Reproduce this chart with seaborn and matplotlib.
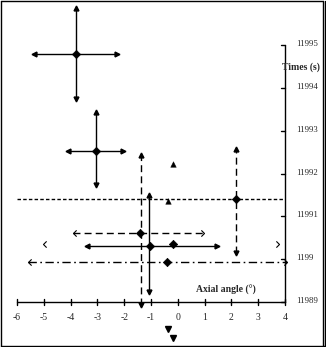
import numpy as np
import pandas as pd
import matplotlib
matplotlib.use("Agg")
import matplotlib.pyplot as plt
from matplotlib.path import Path
from matplotlib.lines import Line2D
import seaborn as sns

# ---------------- data ----------------
x_ticks = [-6, -5, -4, -3, -2, -1, 0, 1, 2, 3, 4]
x_tick_labels = ["-6", "-5", "-4", "-3", "-2", "-1", "0", "1", "2", "3", "4"]
y_ticks = [11989, 11990, 11991, 11992, 11993, 11994, 11995]
y_tick_labels = ["11989", "1199", "11991", "11992", "11993", "11994", "11995"]

# measurement points with error bars
pt_names = ["A", "B", "C", "D", "E", "F"]
pt_x = [-3.81, -3.06, -1.42, -1.05, -0.41, 2.17]
pt_y = [11994.79, 11992.53, 11990.62, 11990.31, 11989.93, 11991.41]
xerr_lo = [1.55, 1.03, 2.48, 2.35, 5.19, 8.17]
xerr_hi = [1.55, 1.03, 2.41, 2.51, 4.48, 1.83]
yerr_lo = [1.05, 0.80, 1.69, 1.08, 0.0, 1.27]
yerr_hi = [1.07, 0.91, 1.81, 1.19, 0.0, 1.16]

# extra single diamond
extra_x = [-0.18]
extra_y = [11990.35]
# open chevrons (bare arrow heads)
chev_left_x = [-5.04]
chev_right_x = [3.77]
chev_y = [11990.35]
# triangle markers
tri_up_x = [-0.19, -0.37]
tri_up_y = [11992.22, 11991.36]
tri_dn_x = [-0.37, -0.19]
tri_dn_y = [11988.37, 11988.16]

# ---------------- styles ----------------
h_style = {"A": "-", "B": "-", "C": (0, (5, 3)), "D": "-", "E": (0, (6, 2.5, 1.2, 2.5)), "F": (0, (2.5, 1.6))}
v_style = {"A": "-", "B": "-", "C": (0, (5, 3)), "D": "-", "E": None, "F": (0, (5, 3))}
h_head = {"A": "fill", "B": "fill", "C": "open", "D": "fill", "E": "open", "F": None}

sns.set_theme(style="white")
plt.rcParams["font.family"] = ["Liberation Serif", "DejaVu Serif"]

W, H = 326, 347
fig = plt.figure(figsize=(W / 100, H / 100), dpi=100)
ax = fig.add_axes([0, 0, 1, 1])

# pixel mapping
px_per_x = 26.8
x0_px = 177.8
px_per_y = 42.83
y0_px = 302.0
ax.set_xlim(-x0_px / px_per_x, (W - x0_px) / px_per_x)
ax.set_ylim(11989 - (H - y0_px) / px_per_y, 11989 + y0_px / px_per_y)

chev_l = Path([(1, 1), (0, 0), (1, -1)], [Path.MOVETO, Path.LINETO, Path.LINETO])
chev_r = Path([(-1, 1), (0, 0), (-1, -1)], [Path.MOVETO, Path.LINETO, Path.LINETO])

lw = 1.0
for i, n in enumerate(pt_names):
    x, y = pt_x[i], pt_y[i]
    xl, xr = x - xerr_lo[i], x + xerr_hi[i]
    ax.plot([xl, xr], [y, y], color="black", lw=lw, linestyle=h_style[n], clip_on=False)
    if h_head[n] == "fill":
        ax.plot([xl], [y], marker="<", ms=3.5, color="black", clip_on=False)
        ax.plot([xr], [y], marker=">", ms=3.5, color="black", clip_on=False)
    elif h_head[n] == "open":
        ax.plot([xl], [y], marker=chev_l, ms=4.5, mfc="none", mec="black", mew=0.8, clip_on=False)
        ax.plot([xr], [y], marker=chev_r, ms=4.5, mfc="none", mec="black", mew=0.8, clip_on=False)
    if v_style[n] is not None:
        vx = x
        if n == "C":
            vx = -1.37
        if n == "D":
            vx = -1.08
        yb, yt = y - yerr_lo[i], y + yerr_hi[i]
        ax.plot([vx, vx], [yb, yt], color="black", lw=lw, linestyle=v_style[n], clip_on=False)
        ax.plot([vx], [yt], marker="^", ms=3.5, color="black", clip_on=False)
        ax.plot([vx], [yb], marker="v", ms=3.5, color="black", clip_on=False)

# diamonds via seaborn
df_pts = pd.DataFrame({"x": pt_x + extra_x, "y": pt_y + extra_y})
sns.scatterplot(data=df_pts, x="x", y="y", marker="D", s=18, color="black",
                edgecolor="black", linewidth=0.5, ax=ax, zorder=5, legend=False)

# chevrons
ax.plot(chev_left_x, chev_y, linestyle="none", marker=chev_l, ms=4.5, mfc="none", mec="black", mew=0.8)
ax.plot(chev_right_x, chev_y, linestyle="none", marker=chev_r, ms=4.5, mfc="none", mec="black", mew=0.8)

# triangles
df_up = pd.DataFrame({"x": tri_up_x, "y": tri_up_y})
sns.scatterplot(data=df_up, x="x", y="y", marker="^", s=16, color="black", edgecolor="black",
                linewidth=0.3, ax=ax, legend=False, zorder=5)
ax.plot(tri_dn_x, tri_dn_y, linestyle="none", marker="v", ms=4, color="black", clip_on=False)

# ---------------- axes drawn manually ----------------
for s in ax.spines.values():
    s.set_visible(False)
ax.set_xticks([])
ax.set_yticks([])
ax.set_xlabel("")
ax.set_ylabel("")

ax.plot([x_ticks[0], x_ticks[-1]], [11989, 11989], color="black", lw=1.0)
tlx = 3.0 / px_per_y
for t, lab in zip(x_ticks, x_tick_labels):
    ax.plot([t, t], [11989 - tlx, 11989 + tlx], color="black", lw=1.0)
    ax.text(t, 11989 - 16 / px_per_y, lab, ha="center", va="center", fontsize=7)

ax.plot([4, 4], [y_ticks[0], y_ticks[-1]], color="black", lw=1.0)
tly = 4.0 / px_per_x
for t, lab in zip(y_ticks, y_tick_labels):
    ax.plot([4 - tly, 4], [t, t], color="black", lw=1.0)
    ax.text(4 + 11 / px_per_x, t + 1.0 / px_per_y, lab, ha="left", va="center", fontsize=6.3)

ax.text(4 + 16 / px_per_x, 11989 + (302 - 67) / px_per_y, "Times (s)", ha="center", va="center",
        fontsize=7, fontweight="bold")
ax.text((226 - x0_px) / px_per_x, 11989 + (302 - 290) / px_per_y, "Axial angle (°)", ha="center",
        va="center", fontsize=7, fontweight="bold")

# figure border (double line on right)
def fx(p):
    return p / W
def fy(p):
    return 1 - p / H
border = [
    ([0.5, 323], [0.7, 0.7]),
    ([0.7, 0.7], [0.5, 345.5]),
    ([0.5, 325.5], [345.5, 345.5]),
    ([322.5, 322.5], [0.5, 345.5]),
    ([325.3, 325.3], [0.5, 346.5]),
]
for xs, ys in border:
    fig.add_artist(Line2D([fx(v) for v in xs], [fy(v) for v in ys], color="black", lw=1.0,
                          transform=fig.transFigure))

fig.savefig("out.png", dpi=100)
